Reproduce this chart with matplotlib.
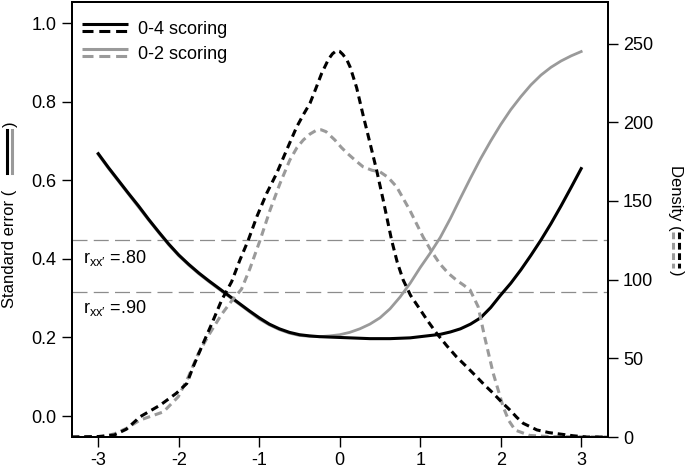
import numpy as np
import matplotlib
matplotlib.use("Agg")
import matplotlib.pyplot as plt
from matplotlib.lines import Line2D
from matplotlib.legend_handler import HandlerBase

plt.rcParams['font.family'] = ['Liberation Sans', 'DejaVu Sans']
plt.rcParams['font.size'] = 13
plt.rcParams['mathtext.default'] = 'regular'

# Standard error curves (left axis)
theta_se = [-3.0, -2.875, -2.75, -2.625, -2.5, -2.375, -2.25, -2.125, -2.0, -1.875, -1.75,
            -1.625, -1.5, -1.375, -1.25, -1.125, -1.0, -0.875, -0.75, -0.625, -0.5, -0.375,
            -0.25, -0.125, 0.0, 0.125, 0.25, 0.375, 0.5, 0.625, 0.75, 0.875, 1.0, 1.125,
            1.25, 1.375, 1.5, 1.625, 1.75, 1.875, 2.0, 2.125, 2.25, 2.375, 2.5, 2.625, 2.75,
            2.875, 3.0]
se_04 = [0.668, 0.633, 0.600, 0.567, 0.535, 0.501, 0.469, 0.438, 0.410, 0.386, 0.364,
         0.344, 0.325, 0.306, 0.287, 0.268, 0.250, 0.234, 0.222, 0.213, 0.207, 0.204,
         0.202, 0.201, 0.200, 0.199, 0.198, 0.197, 0.197, 0.197, 0.198, 0.199, 0.202, 0.205,
         0.208, 0.214, 0.222, 0.234, 0.250, 0.276, 0.308, 0.338, 0.372, 0.409, 0.448, 0.490,
         0.535, 0.582, 0.630]
se_02 = [0.666, 0.631, 0.598, 0.565, 0.532, 0.499, 0.467, 0.436, 0.408, 0.384, 0.362,
         0.342, 0.323, 0.304, 0.285, 0.266, 0.247, 0.232, 0.220, 0.211, 0.205, 0.203,
         0.202, 0.204, 0.207, 0.213, 0.222, 0.234, 0.250, 0.273, 0.303, 0.338, 0.378, 0.415,
         0.455, 0.503, 0.555, 0.606, 0.655, 0.700, 0.742, 0.780, 0.813, 0.843, 0.868, 0.888,
         0.904, 0.917, 0.928]

# Density curves (right axis)
theta_d04 = [-3.33, -3.0, -2.8, -2.65, -2.48, -2.23, -2.03, -1.90, -1.82, -1.715, -1.59, -1.467,
             -1.343, -1.24, -1.137, -1.03, -0.908, -0.784, -0.66, -0.535, -0.45, -0.37, -0.3,
             -0.225, -0.14, -0.09, -0.04, 0.0, 0.04, 0.09, 0.13, 0.21, 0.29, 0.375, 0.458, 0.54,
             0.645, 0.715, 0.789, 0.88, 0.975, 1.09, 1.204, 1.33, 1.45, 1.58, 1.70, 1.80, 1.907,
             2.01, 2.114, 2.2, 2.28, 2.45, 2.6, 2.735, 2.9, 3.07, 3.33]
dens_04 = [0, 0.3, 1.3, 5, 12.9, 20.3, 27.8, 34, 44.7, 57.4, 72, 87,
           98.7, 112.5, 125, 140, 154.8, 167.5, 182.3, 197, 205, 212, 221,
           231, 240, 243.5, 245.5, 245, 243, 239.5, 235, 222, 204.6, 187, 169.6, 150.6,
           125, 111, 99.7, 90, 82.8, 74, 65.9, 58, 51, 44.5, 38.3, 33, 27.8,
           22.3, 17.2, 12.5, 8.7, 4.5, 2.8, 1.9, 0.8, 0, 0]

theta_d02 = [-3.33, -2.95, -2.8, -2.65, -2.48, -2.19, -2.006, -1.88, -1.758, -1.613, -1.467,
             -1.35, -1.22, -1.116, -0.99, -0.867, -0.743, -0.62, -0.53, -0.453, -0.37, -0.287,
             -0.23, -0.17, -0.06, 0.02, 0.1, 0.2, 0.29, 0.4, 0.5, 0.6, 0.707, 0.872, 1.037,
             1.14, 1.245, 1.35, 1.45, 1.54, 1.62, 1.72, 1.80, 1.907, 2.03, 2.1, 2.18, 2.36,
             2.6, 3.33]
dens_02 = [0, 0.3, 2, 5.5, 10.8, 16, 25.6, 38.3, 53, 66, 78,
           86, 94, 107, 125, 144, 161, 176, 184, 188.7, 192.5, 195,
           195.2, 194, 188.7, 184, 180, 175.5, 171.7, 169.5, 168.5, 165, 159, 144, 127,
           118, 110, 104, 99.7, 96.5, 93.4, 82.8, 63.7, 40.5, 19.3, 10.5, 4.4, 1.0,
           0.3, 0]

# reliability reference lines
rel_values = [0.80, 0.90]
rel_labels = ["r$_{xx\u2032}$ =.80", "r$_{xx\u2032}$ =.90"]

x_ticks = [-3, -2, -1, 0, 1, 2, 3]
se_ticks = [0.0, 0.2, 0.4, 0.6, 0.8, 1.0]
dens_ticks = [0, 50, 100, 150, 200, 250]

black = 'black'
gray = '#9a9a9a'
dash = (2.5, 1.6)


class TwoLineHandler(HandlerBase):
    def create_artists(self, legend, orig_handle, xdescent, ydescent, width, height, fontsize, trans):
        color = orig_handle[0]
        yc = (height - ydescent) / 2
        off = 0.27 * height
        top = Line2D([-xdescent, width - xdescent], [yc + off, yc + off], color=color, lw=2.2,
                     solid_capstyle='butt', transform=trans)
        bot = Line2D([-xdescent, width - xdescent], [yc - off, yc - off], color=color, lw=2.2,
                     dashes=(3.6, 1.9), dash_capstyle='butt', transform=trans)
        return [top, bot]


fig = plt.figure(figsize=(6.85, 4.68), dpi=100)
ax = fig.add_axes([0.1047, 0.0662, 0.7825, 0.9302])
ax2 = ax.twinx()

for r in rel_values:
    ax.axhline(np.sqrt(1 - r), color='#8c8c8c', lw=0.9, dashes=(12, 5), zorder=1)
ax.text(-3.19, np.sqrt(1 - rel_values[0]) - 0.058, rel_labels[0], fontsize=13, va='baseline')
ax.text(-3.19, np.sqrt(1 - rel_values[1]) - 0.053, rel_labels[1], fontsize=13, va='baseline')

ax.plot(theta_se, se_02, color=gray, lw=2.0, zorder=3)
ax.plot(theta_se, se_04, color=black, lw=2.2, zorder=4)

ax2.plot(theta_d02, dens_02, color=gray, lw=2.2, dashes=dash, dash_capstyle='butt')
ax2.plot(theta_d04, dens_04, color=black, lw=2.2, dashes=dash, dash_capstyle='butt')

ax.set_xlim(-3.33, 3.33)
ax.set_ylim(-0.0535, 1.055)
ax2.set_ylim(0, 276.6)
ax.set_xticks(x_ticks)
ax.set_xticklabels([str(t) for t in x_ticks])
ax.set_yticks(se_ticks)
ax.set_yticklabels(["%.1f" % t for t in se_ticks])
ax2.set_yticks(dens_ticks)

for a in (ax, ax2):
    a.tick_params(direction='out', length=7, width=1.0, pad=4, labelsize=13)
    for s in a.spines.values():
        s.set_linewidth(1.4)

leg = ax.legend([(black,), (gray,)], ["0-4 scoring", "0-2 scoring"],
                handler_map={tuple: TwoLineHandler()}, loc='upper left',
                bbox_to_anchor=(0.006, 0.972), frameon=False,
                handlelength=2.54, handletextpad=0.55, labelspacing=0.42,
                borderaxespad=0.0, borderpad=0.4, fontsize=13)

# axis titles with small line keys
W, H = 685.0, 468.0
fig.text(10 / W, 1 - 308 / H, "Standard error (", rotation=90, ha='center', va='bottom', fontsize=12)
fig.add_artist(Line2D([7 / W, 7 / W], [1 - 173 / H, 1 - 130 / H], color=black, lw=2.2,
                      transform=fig.transFigure))
fig.add_artist(Line2D([12 / W, 12 / W], [1 - 173 / H, 1 - 130 / H], color=gray, lw=2.2,
                      transform=fig.transFigure))
fig.text(10 / W, 1 - 127 / H, ")", rotation=90, ha='center', va='bottom', fontsize=12)

fig.text(676 / W, 1 - 165 / H, "Density (", rotation=270, ha='center', va='top', fontsize=12)
fig.add_artist(Line2D([673 / W, 673 / W], [1 - 232 / H, 1 - 268 / H], color=gray, lw=2.2,
                      dashes=(2.2, 1.2), transform=fig.transFigure))
fig.add_artist(Line2D([679 / W, 679 / W], [1 - 232 / H, 1 - 268 / H], color=black, lw=2.2,
                      dashes=(2.2, 1.2), transform=fig.transFigure))
fig.text(676 / W, 1 - 270 / H, ")", rotation=270, ha='center', va='top', fontsize=12)

fig.savefig("out.png", dpi=100)
